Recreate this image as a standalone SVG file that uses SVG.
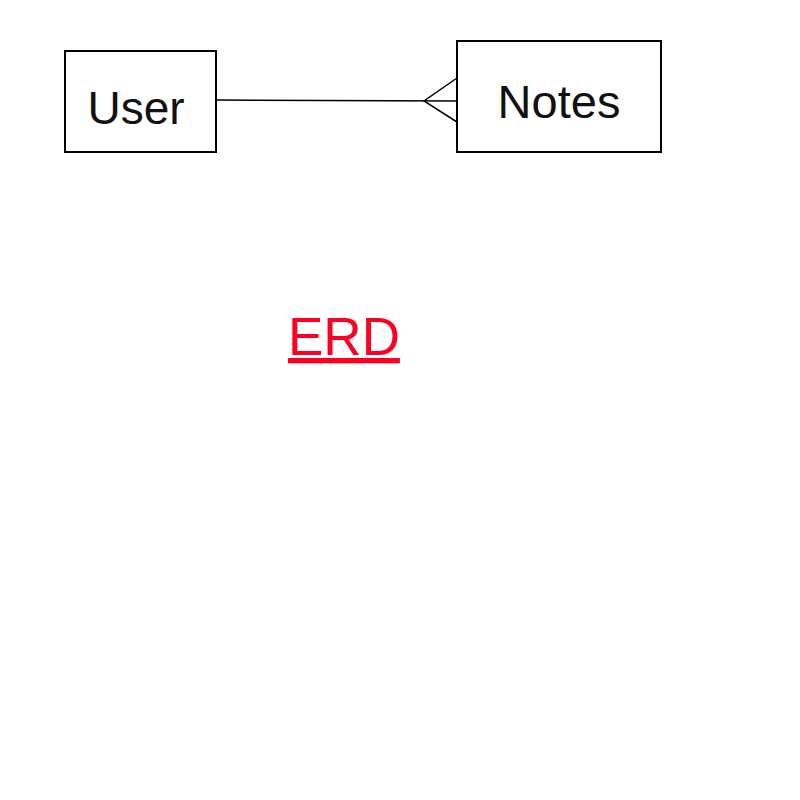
<svg xmlns="http://www.w3.org/2000/svg" width="800" height="800" viewBox="0 0 800 800">
<style>
.box{fill:#fff;stroke:#000;stroke-width:2}
.lbl{font-family:"Liberation Sans",Arial,sans-serif;font-size:46px;fill:#111;text-anchor:middle}
.conn{fill:none;stroke:#000;stroke-width:1.5}
</style>
<rect width="800" height="800" fill="#fff"/>
<g id="user">
<rect class="box" x="65" y="51" width="151" height="101"/>
<text class="lbl" x="136" y="124">User</text>
</g>
<g id="notes">
<rect class="box" x="457" y="41" width="204" height="111"/>
<text class="lbl" x="559" y="118" style="font-size:47px">Notes</text>
</g>
<g id="connectors">
<path class="conn" d="M216,100 L457,101"/>
<path class="conn" d="M457,78 L424,101 L457,122"/>
</g>
<g id="title">
<text x="288" y="355" font-family="'Liberation Sans',Arial,sans-serif" font-size="53" fill="#ff0022" text-decoration="underline">ERD</text>
</g>
</svg>
